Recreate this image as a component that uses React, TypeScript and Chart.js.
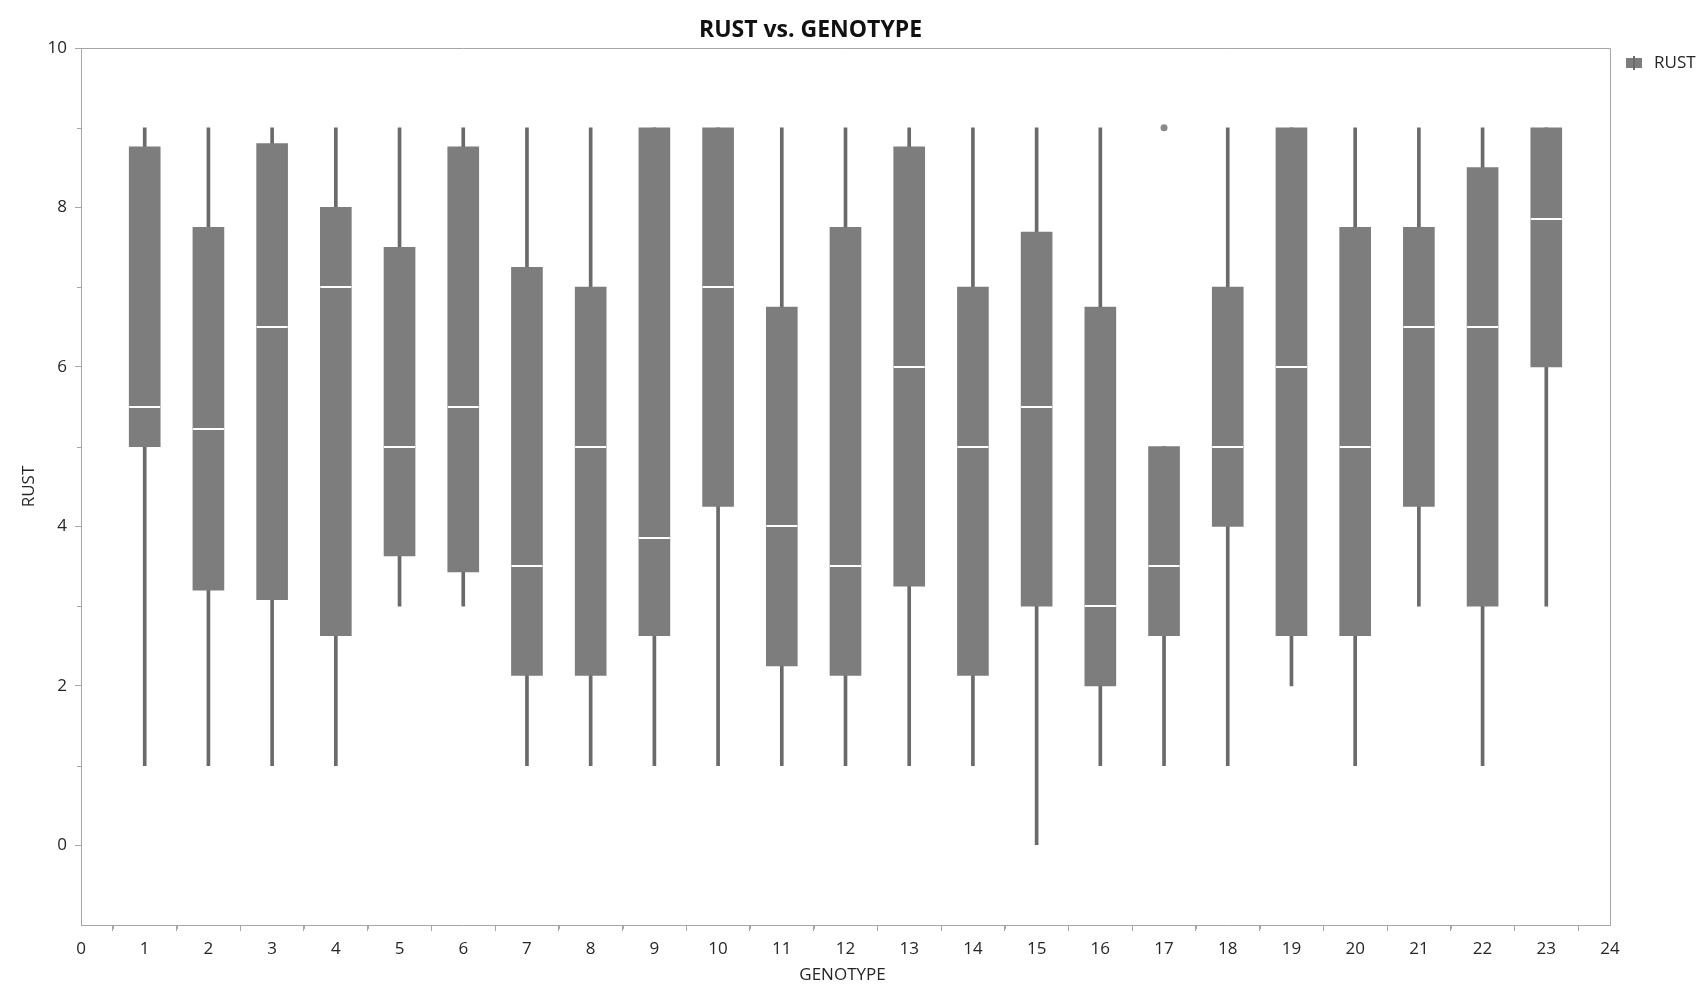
import React, { useEffect, useRef } from "react";
import { Chart, registerables } from "chart.js";

Chart.register(...registerables);

const genotypes = [1, 2, 3, 4, 5, 6, 7, 8, 9, 10, 11, 12, 13, 14, 15, 16, 17, 18, 19, 20, 21, 22, 23];
const whiskerLow = [1, 1, 1, 1, 3, 3, 1, 1, 1, 1, 1, 1, 1, 1, 0, 1, 1, 1, 2, 1, 3, 1, 3];
const whiskerHigh = [9, 9, 9, 9, 9, 9, 9, 9, 9, 9, 9, 9, 9, 9, 9, 9, 5, 9, 9, 9, 9, 9, 9];
const q1 = [5, 3.2, 3.08, 2.63, 3.63, 3.43, 2.13, 2.13, 2.63, 4.25, 2.25, 2.13, 3.25, 2.13, 3, 2, 2.63, 4, 2.63, 2.63, 4.25, 3, 6];
const medians = [5.5, 5.22, 6.5, 7, 5, 5.5, 3.5, 5, 3.85, 7, 4, 3.5, 6, 5, 5.5, 3, 3.5, 5, 6, 5, 6.5, 6.5, 7.85];
const q3 = [8.76, 7.75, 8.8, 8, 7.5, 8.76, 7.25, 7, 9, 9, 6.75, 7.75, 8.76, 7, 7.69, 6.75, 5, 7, 9, 7.75, 7.75, 8.5, 9];
const outlierX = [17];
const outlierY = [9];

const xTicks = [0, 1, 2, 3, 4, 5, 6, 7, 8, 9, 10, 11, 12, 13, 14, 15, 16, 17, 18, 19, 20, 21, 22, 23, 24];
const yTicks = [0, 2, 4, 6, 8, 10];
const yMinorTicks = [1, 3, 5, 7, 9];

const FONT = "'Open Sans', 'Noto Sans', sans-serif";
const AXIS = "#a6a6a6";
const BOX = "#7d7d7d";
const WHISKER = "#6a6a6a";
const TEXT = "#262626";

const decorPlugin = {
  id: "decor",
  beforeDraw(chart: any) {
    const { ctx } = chart;
    ctx.save();
    ctx.fillStyle = "#ffffff";
    ctx.fillRect(0, 0, chart.width, chart.height);
    ctx.restore();
  },
  afterDatasetsDraw(chart: any) {
    const { ctx, scales } = chart;
    const ys = scales.y;
    const boxMeta = chart.getDatasetMeta(1);
    ctx.save();
    ctx.strokeStyle = "#ffffff";
    ctx.lineWidth = 2;
    boxMeta.data.forEach((el: any, i: number) => {
      const y = Math.round(ys.getPixelForValue(medians[i]));
      const half = el.width / 2;
      ctx.beginPath();
      ctx.moveTo(el.x - half, y);
      ctx.lineTo(el.x + half, y);
      ctx.stroke();
    });
    ctx.restore();
  },
  afterDraw(chart: any) {
    const { ctx, chartArea, scales } = chart;
    const ys = scales.y;
    const xs = scales.x;
    ctx.save();
    ctx.strokeStyle = AXIS;
    ctx.lineWidth = 1;
    ctx.beginPath();
    ctx.moveTo(chartArea.left, chartArea.top + 0.5);
    ctx.lineTo(chartArea.right + 0.5, chartArea.top + 0.5);
    ctx.lineTo(chartArea.right + 0.5, chartArea.bottom);
    ctx.stroke();
    ctx.beginPath();
    for (let i = 0; i < xTicks.length - 1; i++) {
      const v = (xTicks[i] + xTicks[i + 1]) / 2;
      const x = Math.round(xs.getPixelForValue(v)) + 0.5;
      ctx.moveTo(x, chartArea.bottom);
      ctx.lineTo(x, chartArea.bottom + 4);
    }
    yMinorTicks.forEach((v) => {
      const y = Math.round(ys.getPixelForValue(v)) + 0.5;
      ctx.moveTo(chartArea.left - 4, y);
      ctx.lineTo(chartArea.left, y);
    });
    ctx.stroke();
    ctx.fillStyle = "#111111";
    ctx.font = `bold 23px ${FONT}`;
    ctx.textAlign = "center";
    ctx.textBaseline = "middle";
    ctx.fillText("RUST vs. GENOTYPE", (chartArea.left + chartArea.right) / 2 - 35, chartArea.top - 18);
    ctx.fillStyle = TEXT;
    ctx.font = `17px ${FONT}`;
    ctx.fillText("GENOTYPE", (chartArea.left + chartArea.right) / 2 - 3, chartArea.bottom + 50);
    ctx.save();
    ctx.translate(chartArea.left - 52, (chartArea.top + chartArea.bottom) / 2);
    ctx.rotate(-Math.PI / 2);
    ctx.fillText("RUST", 0, 0);
    ctx.restore();
    const lx = chartArea.right + 16;
    const ly = chartArea.top + 15;
    ctx.fillStyle = BOX;
    ctx.fillRect(lx, ly - 5, 16, 10);
    ctx.fillStyle = WHISKER;
    ctx.fillRect(lx + 7, ly - 7, 2, 14);
    ctx.fillStyle = TEXT;
    ctx.textAlign = "left";
    ctx.font = `17px ${FONT}`;
    ctx.fillText("RUST", lx + 28, ly);
    ctx.restore();
  },
};

export default function App() {
  const canvasRef = useRef<HTMLCanvasElement>(null);

  useEffect(() => {
    document.body.style.margin = "0";
    const canvas = canvasRef.current;
    if (!canvas) return;
    const chart = new Chart(canvas, {
      type: "bar",
      data: {
        datasets: [
          {
            label: "whisker",
            data: genotypes.map((g, i) => ({ x: g, y: [whiskerLow[i], whiskerHigh[i]] })) as any,
            backgroundColor: WHISKER,
            barThickness: 3,
            grouped: false,
            order: 3,
          } as any,
          {
            label: "RUST",
            data: genotypes.map((g, i) => ({ x: g, y: [q1[i], q3[i]] })) as any,
            backgroundColor: BOX,
            borderWidth: 0,
            barThickness: 31,
            grouped: false,
            order: 2,
          } as any,
          {
            type: "scatter",
            label: "outlier",
            data: outlierX.map((x, i) => ({ x, y: outlierY[i] })),
            backgroundColor: "#8a8a8a",
            borderWidth: 0,
            pointRadius: 3.5,
            order: 1,
          } as any,
        ],
      },
      options: {
        animation: false,
        responsive: true,
        maintainAspectRatio: false,
        layout: { padding: { top: 48, right: 90, left: 0, bottom: 0 } },
        plugins: {
          legend: { display: false },
          tooltip: { enabled: false },
          title: { display: false },
        },
        scales: {
          x: {
            type: "linear",
            min: 0,
            max: 24,
            offset: false,
            afterBuildTicks: (scale: any) => {
              scale.ticks = xTicks.map((v) => ({ value: v }));
            },
            afterFit: (scale: any) => {
              scale.height = 70;
            },
            ticks: {
              autoSkip: false,
              maxRotation: 0,
              padding: 8,
              color: TEXT,
              font: { family: FONT, size: 17 },
              callback: (v: any) => String(v),
            },
            grid: {
              drawOnChartArea: false,
              drawTicks: true,
              tickLength: 6,
              tickColor: AXIS,
              color: AXIS,
            },
            border: { display: true, color: AXIS, width: 1 },
          },
          y: {
            type: "linear",
            min: -1,
            max: 10,
            afterBuildTicks: (scale: any) => {
              scale.ticks = yTicks.map((v) => ({ value: v }));
            },
            afterFit: (scale: any) => {
              scale.width = 81;
            },
            ticks: {
              autoSkip: false,
              padding: 8,
              color: TEXT,
              font: { family: FONT, size: 17 },
              callback: (v: any) => String(v),
            },
            grid: {
              drawOnChartArea: false,
              drawTicks: true,
              tickLength: 6,
              tickColor: AXIS,
              color: AXIS,
            },
            border: { display: true, color: AXIS, width: 1 },
          },
        },
      },
      plugins: [decorPlugin],
    });
    return () => chart.destroy();
  }, []);

  return (
    <div style={{ position: "relative", width: 1700, height: 995 }}>
      <canvas ref={canvasRef} />
    </div>
  );
}
